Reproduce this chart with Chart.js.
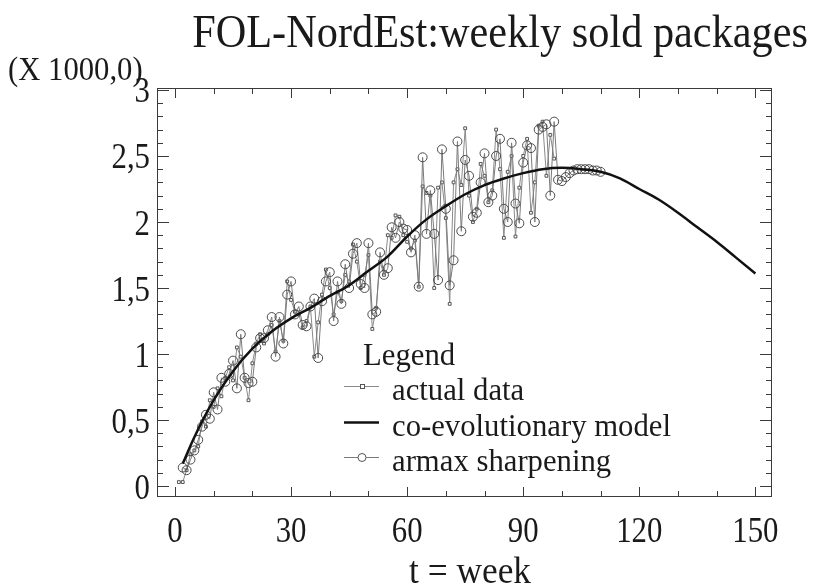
<!DOCTYPE html>
<html>
<head>
<meta charset="utf-8">
<script src="https://cdn.jsdelivr.net/npm/chart.js@4"></script>
<style>
  html, body { margin: 0; padding: 0; background: #fff; }
</style>
</head>
<body>
<canvas id="grafico" width="815" height="588"></canvas>
<script>
/* --- Dados --- */
// actual data: semanas 1..98
const semanaInicialReal = 1;
const valoresReais = [
  0.03, 0.03, 0.12, 0.24, 0.27, 0.30, 0.49, 0.45, 0.65, 0.60,
  0.74, 0.68, 0.82, 0.90, 0.80, 1.05, 0.98, 0.82, 0.65, 0.93,
  1.08, 1.15, 1.08, 1.15, 1.22, 1.02, 1.25, 1.10, 1.55, 1.41,
  1.32, 1.30, 1.20, 1.25, 1.36, 0.98, 1.24, 1.45, 1.64, 1.50,
  1.30, 1.47, 1.40, 1.60, 1.55, 1.83, 1.70, 1.50, 1.60, 1.75,
  1.19, 1.35, 1.70, 1.60, 1.90, 1.88, 2.05, 2.04, 1.90, 1.85,
  1.80, 1.86, 1.51, 2.27, 2.22, 2.20, 1.50, 2.26, 2.30, 2.03,
  1.38, 2.30, 2.40, 2.28, 2.71, 2.20, 2.00, 2.10, 2.44, 2.35,
  2.15, 2.24, 2.70, 2.40, 1.88, 2.38, 2.50, 1.89, 2.26, 2.50,
  2.63, 2.07, 2.30, 2.73, 2.76, 2.35, 2.66, 2.48
];

// armax sharpening: semanas 2..110
const semanaInicialArmax = 2;
const valoresArmax = [
  0.14, 0.12, 0.20, 0.27, 0.35, 0.45, 0.54, 0.51, 0.71, 0.58,
  0.82, 0.79, 0.85, 0.95, 0.74, 1.15, 0.82, 0.78, 0.79, 1.05,
  1.12, 1.12, 1.18, 1.28, 0.98, 1.28, 1.08, 1.45, 1.55, 1.30,
  1.36, 1.22, 1.21, 1.36, 1.42, 0.97, 1.40, 1.55, 1.62, 1.25,
  1.55, 1.38, 1.68, 1.50, 1.76, 1.84, 1.53, 1.50, 1.84, 1.30,
  1.32, 1.77, 1.60, 1.65, 1.96, 1.88, 2.00, 1.95, 1.94, 1.77,
  1.90, 1.51, 2.49, 1.91, 2.24, 1.91, 1.56, 2.55, 2.10, 1.52,
  1.71, 2.61, 1.93, 2.47, 2.35, 2.04, 2.07, 2.30, 2.52, 2.15,
  2.20, 2.50, 2.63, 2.10, 2.00, 2.60, 2.14, 1.99, 2.45, 2.58,
  2.56, 2.00, 2.70, 2.72, 2.74, 2.20, 2.76, 2.32, 2.31, 2.34,
  2.37, 2.39, 2.40, 2.40, 2.40, 2.40, 2.39, 2.39, 2.38
];

// co-evolutionary model
const semanasModelo = [2, 5, 10, 15, 20, 25, 30, 35, 40, 45, 50, 55, 60, 65, 70, 75,
  80, 85, 90, 95, 100, 105, 110, 115, 120, 125, 130, 135, 140, 145, 150];
const valoresModelo = [0.17, 0.37, 0.65, 0.87, 1.04, 1.17, 1.27, 1.35, 1.44, 1.52, 1.63, 1.74,
  1.89, 2.02, 2.12, 2.21, 2.28, 2.33, 2.37, 2.40, 2.41, 2.40, 2.38, 2.33, 2.25, 2.17,
  2.07, 1.96, 1.85, 1.73, 1.61];

const rotulosX = [0, 30, 60, 90, 120, 150];
const rotulosY = [0, 0.5, 1, 1.5, 2, 2.5, 3];

const fonte = "'Liberation Serif', 'DejaVu Serif', serif";

function pontos(valores, inicio) {
  return valores.map((v, i) => ({ x: inicio + i, y: v }));
}

// texto um pouco estreitado, como no original
function textoEstreito(ctx, texto, x, y, escala) {
  ctx.save();
  ctx.translate(x, y);
  ctx.scale(escala, 1);
  ctx.fillText(texto, 0, 0);
  ctx.restore();
}

/* --- Moldura, marcas internas e rótulos dos eixos --- */
const moldura = {
  id: "moldura",
  afterDatasetsDraw(chart) {
    const { ctx, chartArea: a, scales: { x, y } } = chart;
    ctx.save();
    ctx.strokeStyle = "#3a3a3a";
    ctx.lineWidth = 1;
    ctx.strokeRect(a.left + 0.5, a.top + 0.5, a.right - a.left - 1, a.bottom - a.top - 1);
    ctx.beginPath();
    x.ticks.forEach(t => {
      const px = Math.round(x.getPixelForValue(t.value)) + 0.5;
      const len = rotulosX.includes(t.value) ? 10 : 6;
      ctx.moveTo(px, a.bottom); ctx.lineTo(px, a.bottom - len);
      ctx.moveTo(px, a.top); ctx.lineTo(px, a.top + len);
    });
    y.ticks.forEach(t => {
      const py = Math.round(y.getPixelForValue(t.value)) + 0.5;
      const maior = rotulosY.some(r => Math.abs(r - t.value) < 1e-6);
      const len = maior ? 12 : 6;
      ctx.moveTo(a.left, py); ctx.lineTo(a.left + len, py);
      ctx.moveTo(a.right, py); ctx.lineTo(a.right - len, py);
    });
    ctx.stroke();

    ctx.fillStyle = "#1a1a1a";
    ctx.font = "35px " + fonte;
    ctx.textBaseline = "alphabetic";
    ctx.textAlign = "center";
    rotulosX.forEach(v => {
      textoEstreito(ctx, String(v), x.getPixelForValue(v), 542, 0.88);
    });
    ctx.textAlign = "right";
    rotulosY.forEach(v => {
      textoEstreito(ctx, String(v).replace(".", ","), 150, y.getPixelForValue(v) + 12.5, 0.88);
    });
    ctx.restore();
  }
};

/* --- Textos e legenda --- */
const textos = {
  id: "textos",
  afterDraw(chart) {
    const { ctx } = chart;
    ctx.save();
    ctx.fillStyle = "#1a1a1a";
    ctx.textBaseline = "alphabetic";

    ctx.font = "46px " + fonte;
    ctx.textAlign = "right";
    textoEstreito(ctx, "FOL-NordEst:weekly sold packages", 808, 47, 0.92);

    ctx.font = "33px " + fonte;
    ctx.textAlign = "left";
    textoEstreito(ctx, "(X 1000,0)", 8, 80, 0.93);

    ctx.font = "38px " + fonte;
    ctx.textAlign = "center";
    textoEstreito(ctx, "t = week", 470, 583, 0.93);

    // legenda
    ctx.font = "32px " + fonte;
    ctx.textAlign = "left";
    textoEstreito(ctx, "Legend", 363, 365, 0.96);
    const linhas = [
      { texto: "actual data", y: 386, ds: chart.data.datasets[0] },
      { texto: "co-evolutionary model", y: 422, ds: chart.data.datasets[2] },
      { texto: "armax sharpening", y: 457, ds: chart.data.datasets[1] }
    ];
    linhas.forEach(l => {
      ctx.strokeStyle = l.ds.borderColor;
      ctx.lineWidth = l.ds.borderWidth;
      ctx.beginPath();
      ctx.moveTo(344, l.y + 0.5);
      ctx.lineTo(379, l.y + 0.5);
      ctx.stroke();
      ctx.lineWidth = 1;
      ctx.strokeStyle = "#555";
      ctx.fillStyle = "#fff";
      if (l.ds.pointStyle === "rect") {
        ctx.fillRect(360, l.y - 2, 4, 4);
        ctx.strokeRect(360.5, l.y - 1.5, 4, 4);
      } else if (l.ds.pointStyle === "circle") {
        ctx.beginPath();
        ctx.arc(362, l.y + 0.5, 4, 0, Math.PI * 2);
        ctx.fill();
        ctx.stroke();
      }
      ctx.fillStyle = "#1a1a1a";
      textoEstreito(ctx, l.texto, 392, l.y + 14, 0.96);
    });
    ctx.restore();
  }
};

/* --- Gráfico --- */
const ctx = document.getElementById("grafico").getContext("2d");
new Chart(ctx, {
  type: "scatter",
  data: {
    datasets: [
      {
        label: "actual data",
        data: pontos(valoresReais, semanaInicialReal),
        showLine: true,
        borderColor: "#8a8a8a",
        borderWidth: 1,
        pointStyle: "rect",
        pointRadius: 2,
        pointBorderColor: "#555",
        pointBackgroundColor: "#fff",
        pointBorderWidth: 1,
        order: 2
      },
      {
        label: "armax sharpening",
        data: pontos(valoresArmax, semanaInicialArmax),
        showLine: true,
        borderColor: "#7a7a7a",
        borderWidth: 1,
        pointStyle: "circle",
        pointRadius: 4.5,
        pointBorderColor: "#4a4a4a",
        pointBackgroundColor: "rgba(255,255,255,0)",
        pointBorderWidth: 1,
        order: 1
      },
      {
        label: "co-evolutionary model",
        data: semanasModelo.map((s, i) => ({ x: s, y: valoresModelo[i] })),
        showLine: true,
        borderColor: "#111",
        borderWidth: 2.5,
        pointRadius: 0,
        cubicInterpolationMode: "monotone",
        order: 0
      }
    ]
  },
  options: {
    responsive: false,
    animation: false,
    devicePixelRatio: 1,
    layout: { padding: { top: 88, right: 43, left: 0, bottom: 0 } },
    plugins: {
      legend: { display: false },
      tooltip: { enabled: false }
    },
    scales: {
      x: {
        type: "linear",
        min: -4.65,
        max: 154.3,
        grid: { display: false, drawTicks: false },
        border: { display: false },
        ticks: { stepSize: 10, includeBounds: false, autoSkip: false, display: false },
        afterFit: s => { s.height = 91; }
      },
      y: {
        type: "linear",
        min: -0.083,
        max: 3.015,
        grid: { display: false, drawTicks: false },
        border: { display: false },
        ticks: { stepSize: 0.1, includeBounds: false, autoSkip: false, display: false },
        afterFit: s => { s.width = 157; }
      }
    }
  },
  plugins: [moldura, textos]
});
</script>
</body>
</html>
